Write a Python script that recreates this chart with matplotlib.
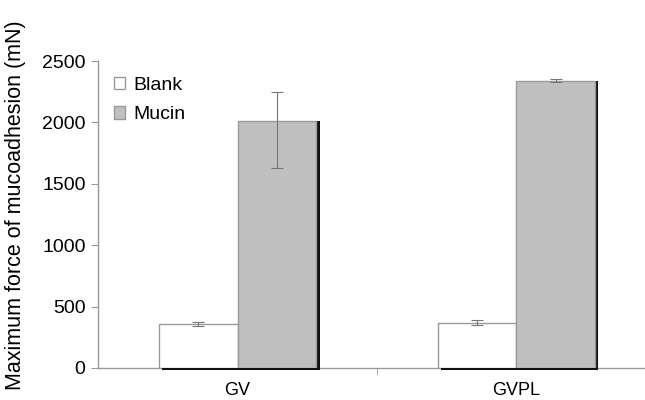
import matplotlib
matplotlib.use("Agg")
import matplotlib.pyplot as plt
import numpy as np

# data
groups = ["GV", "GVPL"]
series = ["Blank", "Mucin"]
blank = [360, 370]
mucin = [2010, 2340]
blank_err = [[15, 20], [15, 20]]
mucin_err = [[385, 15], [240, 15]]

plt.rcParams['font.family'] = ['Liberation Sans', 'DejaVu Sans']

fig = plt.figure(figsize=(6.45, 4.0), dpi=100)
ax = fig.add_axes([0.152, 0.08, 0.865, 0.7675])

x = np.arange(len(groups))
w = 0.283
grey = '#999999'

# shadow behind the bars (offset right / down)
dx, dy = 0.011, 14
for xs, vals in ((x - w / 2, blank), (x + w / 2, mucin)):
    sh = ax.bar(xs + dx, np.array(vals) + dy, w, bottom=-dy, color='#111111',
                zorder=1)
    for p in sh:
        p.set_clip_on(False)

ax.bar(x - w / 2, blank, w, color='white', edgecolor=grey, linewidth=1,
       label=series[0], zorder=2)
ax.bar(x + w / 2, mucin, w, color='#c0c0c0', edgecolor=grey, linewidth=1,
       label=series[1], zorder=2)
ax.errorbar(x - w / 2, blank, yerr=blank_err, fmt='none', ecolor='#777777',
            elinewidth=0.8, capsize=4, capthick=0.8, zorder=3)
ax.errorbar(x + w / 2, mucin, yerr=mucin_err, fmt='none', ecolor='#777777',
            elinewidth=0.8, capsize=4, capthick=0.8, zorder=3)

ax.set_xlim(-0.5, 1.5)
ax.set_ylim(0, 2500)
ax.set_yticks(range(0, 2501, 500))
ax.set_xticks(x)
ax.set_xticklabels(groups)
ax.set_xticks([0.5], minor=True)
ax.tick_params(axis='x', which='major', length=0, labelsize=13, pad=10)
ax.tick_params(axis='x', which='minor', length=5, color=grey)
ax.tick_params(axis='y', length=5, color=grey, labelsize=14, pad=4)

for s in ('top', 'right'):
    ax.spines[s].set_visible(False)
for s in ('left', 'bottom'):
    ax.spines[s].set_color(grey)
    ax.spines[s].set_linewidth(1)
ax.spines['bottom'].set_zorder(0)

ax.set_ylabel("Maximum force of mucoadhesion (mN)", fontsize=15.5)
ax.yaxis.set_label_coords(-0.13, 0.53)

leg = ax.legend(loc='upper left', bbox_to_anchor=(0.0, 1.0), frameon=False,
                fontsize=14, handlelength=0.6, handleheight=0.6,
                handletextpad=0.4, labelspacing=0.65, borderaxespad=0.5,
                borderpad=0.3)

fig.savefig("out.png", dpi=100)
